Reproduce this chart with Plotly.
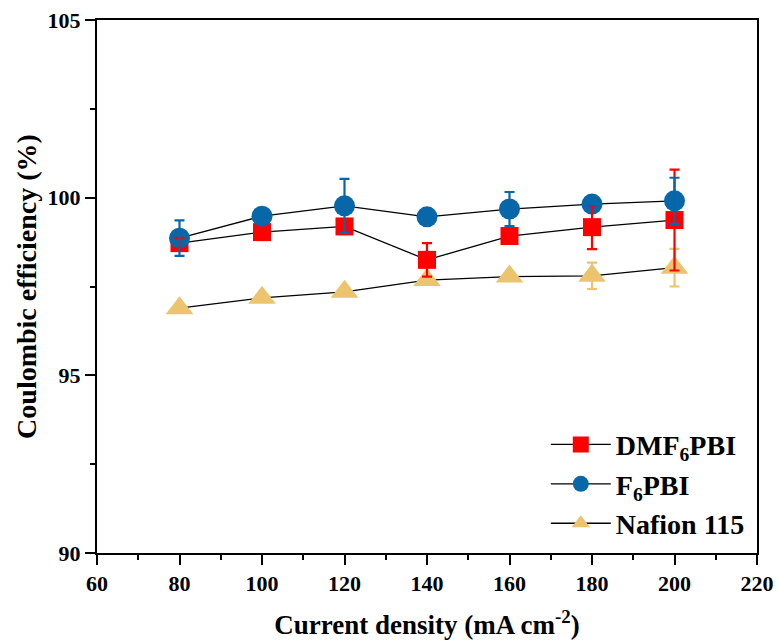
import plotly.graph_objects as go

# Current density (mA cm-2)
current_density = [80, 100, 120, 140, 160, 180, 200]

# Coulombic efficiency (%) and standard deviations
dmf6pbi_ce = [98.72, 99.03, 99.19, 98.25, 98.92, 99.17, 99.37]
dmf6pbi_err = [0.15, 0.0, 0.0, 0.47, 0.0, 0.62, 1.42]

f6pbi_ce = [98.86, 99.48, 99.77, 99.46, 99.68, 99.82, 99.91]
f6pbi_err = [0.5, 0.0, 0.76, 0.0, 0.48, 0.0, 0.65]

nafion_ce = [96.89, 97.18, 97.35, 97.68, 97.78, 97.80, 98.03]
nafion_err = [0.0, 0.0, 0.0, 0.0, 0.0, 0.37, 0.53]

x_ticks = [60, 80, 100, 120, 140, 160, 180, 200, 220]
y_ticks = [90, 95, 100, 105]

RED = "#FF0000"
BLUE = "#0767A9"
GOLD = "#EBC46D"
FONT = "Liberation Serif"

series = [
    ("Nafion 115", nafion_ce, nafion_err, GOLD, "triangle-up", 24),
    ("DMF<sub>6</sub>PBI", dmf6pbi_ce, dmf6pbi_err, RED, "square", 18),
    ("F<sub>6</sub>PBI", f6pbi_ce, f6pbi_err, BLUE, "circle", 21),
]
legend_rank = {"DMF<sub>6</sub>PBI": 1, "F<sub>6</sub>PBI": 2, "Nafion 115": 3}

fig = go.Figure()

# Line + marker traces
for name, ce, err, color, symbol, size in series:
    fig.add_trace(go.Scatter(
        x=current_density, y=ce, name=name,
        mode="lines+markers",
        line=dict(color="black", width=1.3),
        marker=dict(symbol=symbol, size=size, color=color, line=dict(width=0)),
        legendrank=legend_rank[name],
    ))

# Error bars drawn on top of all markers
for name, ce, err, color, symbol, size in series:
    fig.add_trace(go.Scatter(
        x=current_density, y=ce, mode="markers",
        marker=dict(size=1, opacity=0, color=color),
        error_y=dict(type="data", array=err, visible=True,
                     color=color, thickness=2.2, width=5),
        showlegend=False, hoverinfo="skip",
    ))

axis_font = dict(family=FONT, size=22, color="black")

fig.update_xaxes(
    range=[60, 220], tickvals=x_ticks, ticktext=[f"<b>{v}</b>" for v in x_ticks],
    showgrid=False, zeroline=False, automargin=False,
    showline=True, linecolor="black", linewidth=2, mirror=True,
    ticks="outside", ticklen=10, tickwidth=2, tickcolor="black",
    minor=dict(dtick=10, tick0=60, ticks="outside", ticklen=5, tickwidth=2, tickcolor="black"),
    tickfont=axis_font,
    title=dict(text="<b>Current density (mA cm<sup>-2</sup>)</b>",
               font=dict(family=FONT, size=27, color="black"), standoff=20),
)
fig.update_yaxes(
    range=[90, 105], tickvals=y_ticks, ticktext=[f"<b>{v}</b>" for v in y_ticks],
    showgrid=False, zeroline=False, automargin=False,
    showline=True, linecolor="black", linewidth=2, mirror=True,
    ticks="outside", ticklen=10, tickwidth=2, tickcolor="black",
    minor=dict(dtick=2.5, tick0=90, ticks="outside", ticklen=5, tickwidth=2, tickcolor="black"),
    tickfont=axis_font,
    title=dict(text="<b>Coulombic efficiency (%)</b>",
               font=dict(family=FONT, size=28, color="black"), standoff=3),
)

fig.update_layout(
    width=778, height=643,
    margin=dict(l=97, r=21, t=20, b=90),
    plot_bgcolor="white", paper_bgcolor="white",
    font=dict(family=FONT, color="black"),
    legend=dict(
        x=0.68, y=0.25, xanchor="left", yanchor="top",
        bgcolor="rgba(0,0,0,0)", borderwidth=0,
        font=dict(family=FONT, size=28, color="black", weight="bold"),
        itemwidth=60, tracegroupgap=0,
    ),
)

fig.write_html("out.html")
